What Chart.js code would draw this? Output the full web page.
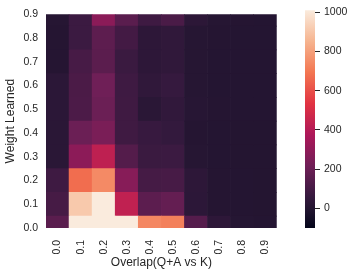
<!DOCTYPE html>
<html>
<head>
<meta charset="utf-8">
<script src="https://cdn.jsdelivr.net/npm/chart.js@4"></script>
<style>
  html, body { margin: 0; padding: 0; background: #fff; }
  #wrap { position: relative; width: 356px; height: 274px; }
  #heat { position: absolute; left: 0; top: 0; width: 290px; height: 274px; }
  #cbar { position: absolute; left: 290px; top: 0; width: 66px; height: 274px; }
</style>
</head>
<body>
<div id="wrap">
  <canvas id="heat" width="290" height="274"></canvas>
  <canvas id="cbar" width="66" height="274"></canvas>
</div>
<script>
// 軸ラベル
const xLabels = ['0.0', '0.1', '0.2', '0.3', '0.4', '0.5', '0.6', '0.7', '0.8', '0.9'];
const yLabels = ['0.0', '0.1', '0.2', '0.3', '0.4', '0.5', '0.6', '0.7', '0.8', '0.9'];

// 各行の値 (Weight Learned = 0.0 ... 0.9)
const w00 = [159, 1010, 1010, 1010, 736, 718, 145, 33, 8, 3];
const w01 = [105, 911, 1010, 433, 164, 185, 30, 6, 3, 2];
const w02 = [83, 671, 744, 277, 102, 107, 33, 6, 3, 2];
const w03 = [23, 290, 428, 142, 72, 75, 10, 3, 2, 2];
const w04 = [23, 204, 243, 86, 64, 52, 6, 3, 2, 2];
const w05 = [26, 121, 205, 86, 23, 46, 13, 6, 3, 3];
const w06 = [26, 118, 215, 83, 42, 59, 10, 3, 3, 3];
const w07 = [6, 107, 161, 72, 33, 42, 10, 3, 3, 3];
const w08 = [6, 75, 167, 97, 33, 42, 10, 6, 3, 3];
const w09 = [10, 75, 287, 159, 83, 115, 29, 10, 6, 3];
const rows = [w00, w01, w02, w03, w04, w05, w06, w07, w08, w09];

// カラーバー
const vMin = -100;
const vMax = 1010;
const cbarTicks = [0, 200, 400, 600, 800, 1000];

// rocket カラーマップ
const rocket = [
  [0, '#03051a'],
  [0.09, '#231531'],
  [1 / 7, '#35193e'],
  [2 / 7, '#701f57'],
  [3 / 7, '#ad1759'],
  [4 / 7, '#e13342'],
  [5 / 7, '#f37651'],
  [6 / 7, '#f6b48f'],
  [1, '#faebdd']
];

function hexToRgb(h) {
  return [1, 3, 5].map(i => parseInt(h.slice(i, i + 2), 16));
}

function rocketColor(v) {
  let t = (v - vMin) / (vMax - vMin);
  t = Math.max(0, Math.min(1, t));
  for (let i = 1; i < rocket.length; i++) {
    if (t <= rocket[i][0]) {
      const [t0, c0] = rocket[i - 1];
      const [t1, c1] = rocket[i];
      const f = (t - t0) / (t1 - t0);
      const a = hexToRgb(c0), b = hexToRgb(c1);
      const c = a.map((x, k) => Math.round(x + (b[k] - x) * f));
      return `rgb(${c[0]}, ${c[1]}, ${c[2]})`;
    }
  }
  return rocket[rocket.length - 1][1];
}

const textColor = '#262626';
const family = "'Liberation Sans', Arial, sans-serif";
const tickFont = { family: family, size: 10.5 };
const titleFont = { family: family, size: 12 };

// 1行ごとに浮動バーのデータセットを作る
const datasets = rows.map((vals, r) => ({
  data: vals.map(() => [r - 0.5, r + 0.5]),
  backgroundColor: vals.map(rocketColor),
  borderWidth: 0,
  barPercentage: 1,
  categoryPercentage: 1,
  grouped: false
}));

new Chart(document.getElementById('heat'), {
  type: 'bar',
  data: { labels: xLabels, datasets: datasets },
  options: {
    responsive: false,
    animation: false,
    layout: { padding: { top: 10, right: 4, left: 0, bottom: 0 } },
    plugins: { legend: { display: false }, tooltip: { enabled: false } },
    scales: {
      x: {
        grid: { display: false, drawTicks: false },
        border: { display: false },
        ticks: { color: textColor, font: tickFont, minRotation: 90, maxRotation: 90, padding: 12, autoSkip: false },
        title: { display: true, text: 'Overlap(Q+A vs K)', color: textColor, font: titleFont, padding: { top: 0, bottom: 4 } },
        afterFit: s => { s.height = 46; }
      },
      y: {
        min: 0,
        max: 9,
        grid: { display: false, drawTicks: false },
        border: { display: false },
        ticks: { stepSize: 1, color: textColor, font: tickFont, padding: 8, callback: v => yLabels[v] },
        title: { display: true, text: 'Weight Learned', color: textColor, font: titleFont, padding: { top: 3, bottom: 0 } },
        afterFit: s => { s.width = 46; }
      }
    }
  }
});

// カラーバーのグラデーション
function cbarGradient(chart) {
  const area = chart.chartArea;
  if (!area) return '#000';
  const g = chart.ctx.createLinearGradient(0, area.bottom, 0, area.top);
  rocket.forEach(([t, c]) => g.addColorStop(t, c));
  return g;
}

new Chart(document.getElementById('cbar'), {
  type: 'bar',
  data: {
    labels: [''],
    datasets: [{
      data: [[vMin, vMax]],
      backgroundColor: ctx => cbarGradient(ctx.chart),
      borderWidth: 0,
      barPercentage: 1,
      categoryPercentage: 1
    }]
  },
  options: {
    responsive: false,
    animation: false,
    layout: { padding: { top: 10, bottom: 46, left: 15, right: 0 } },
    plugins: { legend: { display: false }, tooltip: { enabled: false } },
    scales: {
      x: { display: false },
      y: {
        position: 'right',
        min: vMin,
        max: vMax,
        grid: { drawOnChartArea: false, drawTicks: true, tickLength: 5, color: textColor },
        border: { display: false },
        ticks: { color: textColor, font: tickFont, padding: 4, callback: v => String(v) },
        afterBuildTicks: s => { s.ticks = cbarTicks.map(v => ({ value: v })); },
        afterFit: s => { s.width = 41; }
      }
    }
  }
});
</script>
</body>
</html>
